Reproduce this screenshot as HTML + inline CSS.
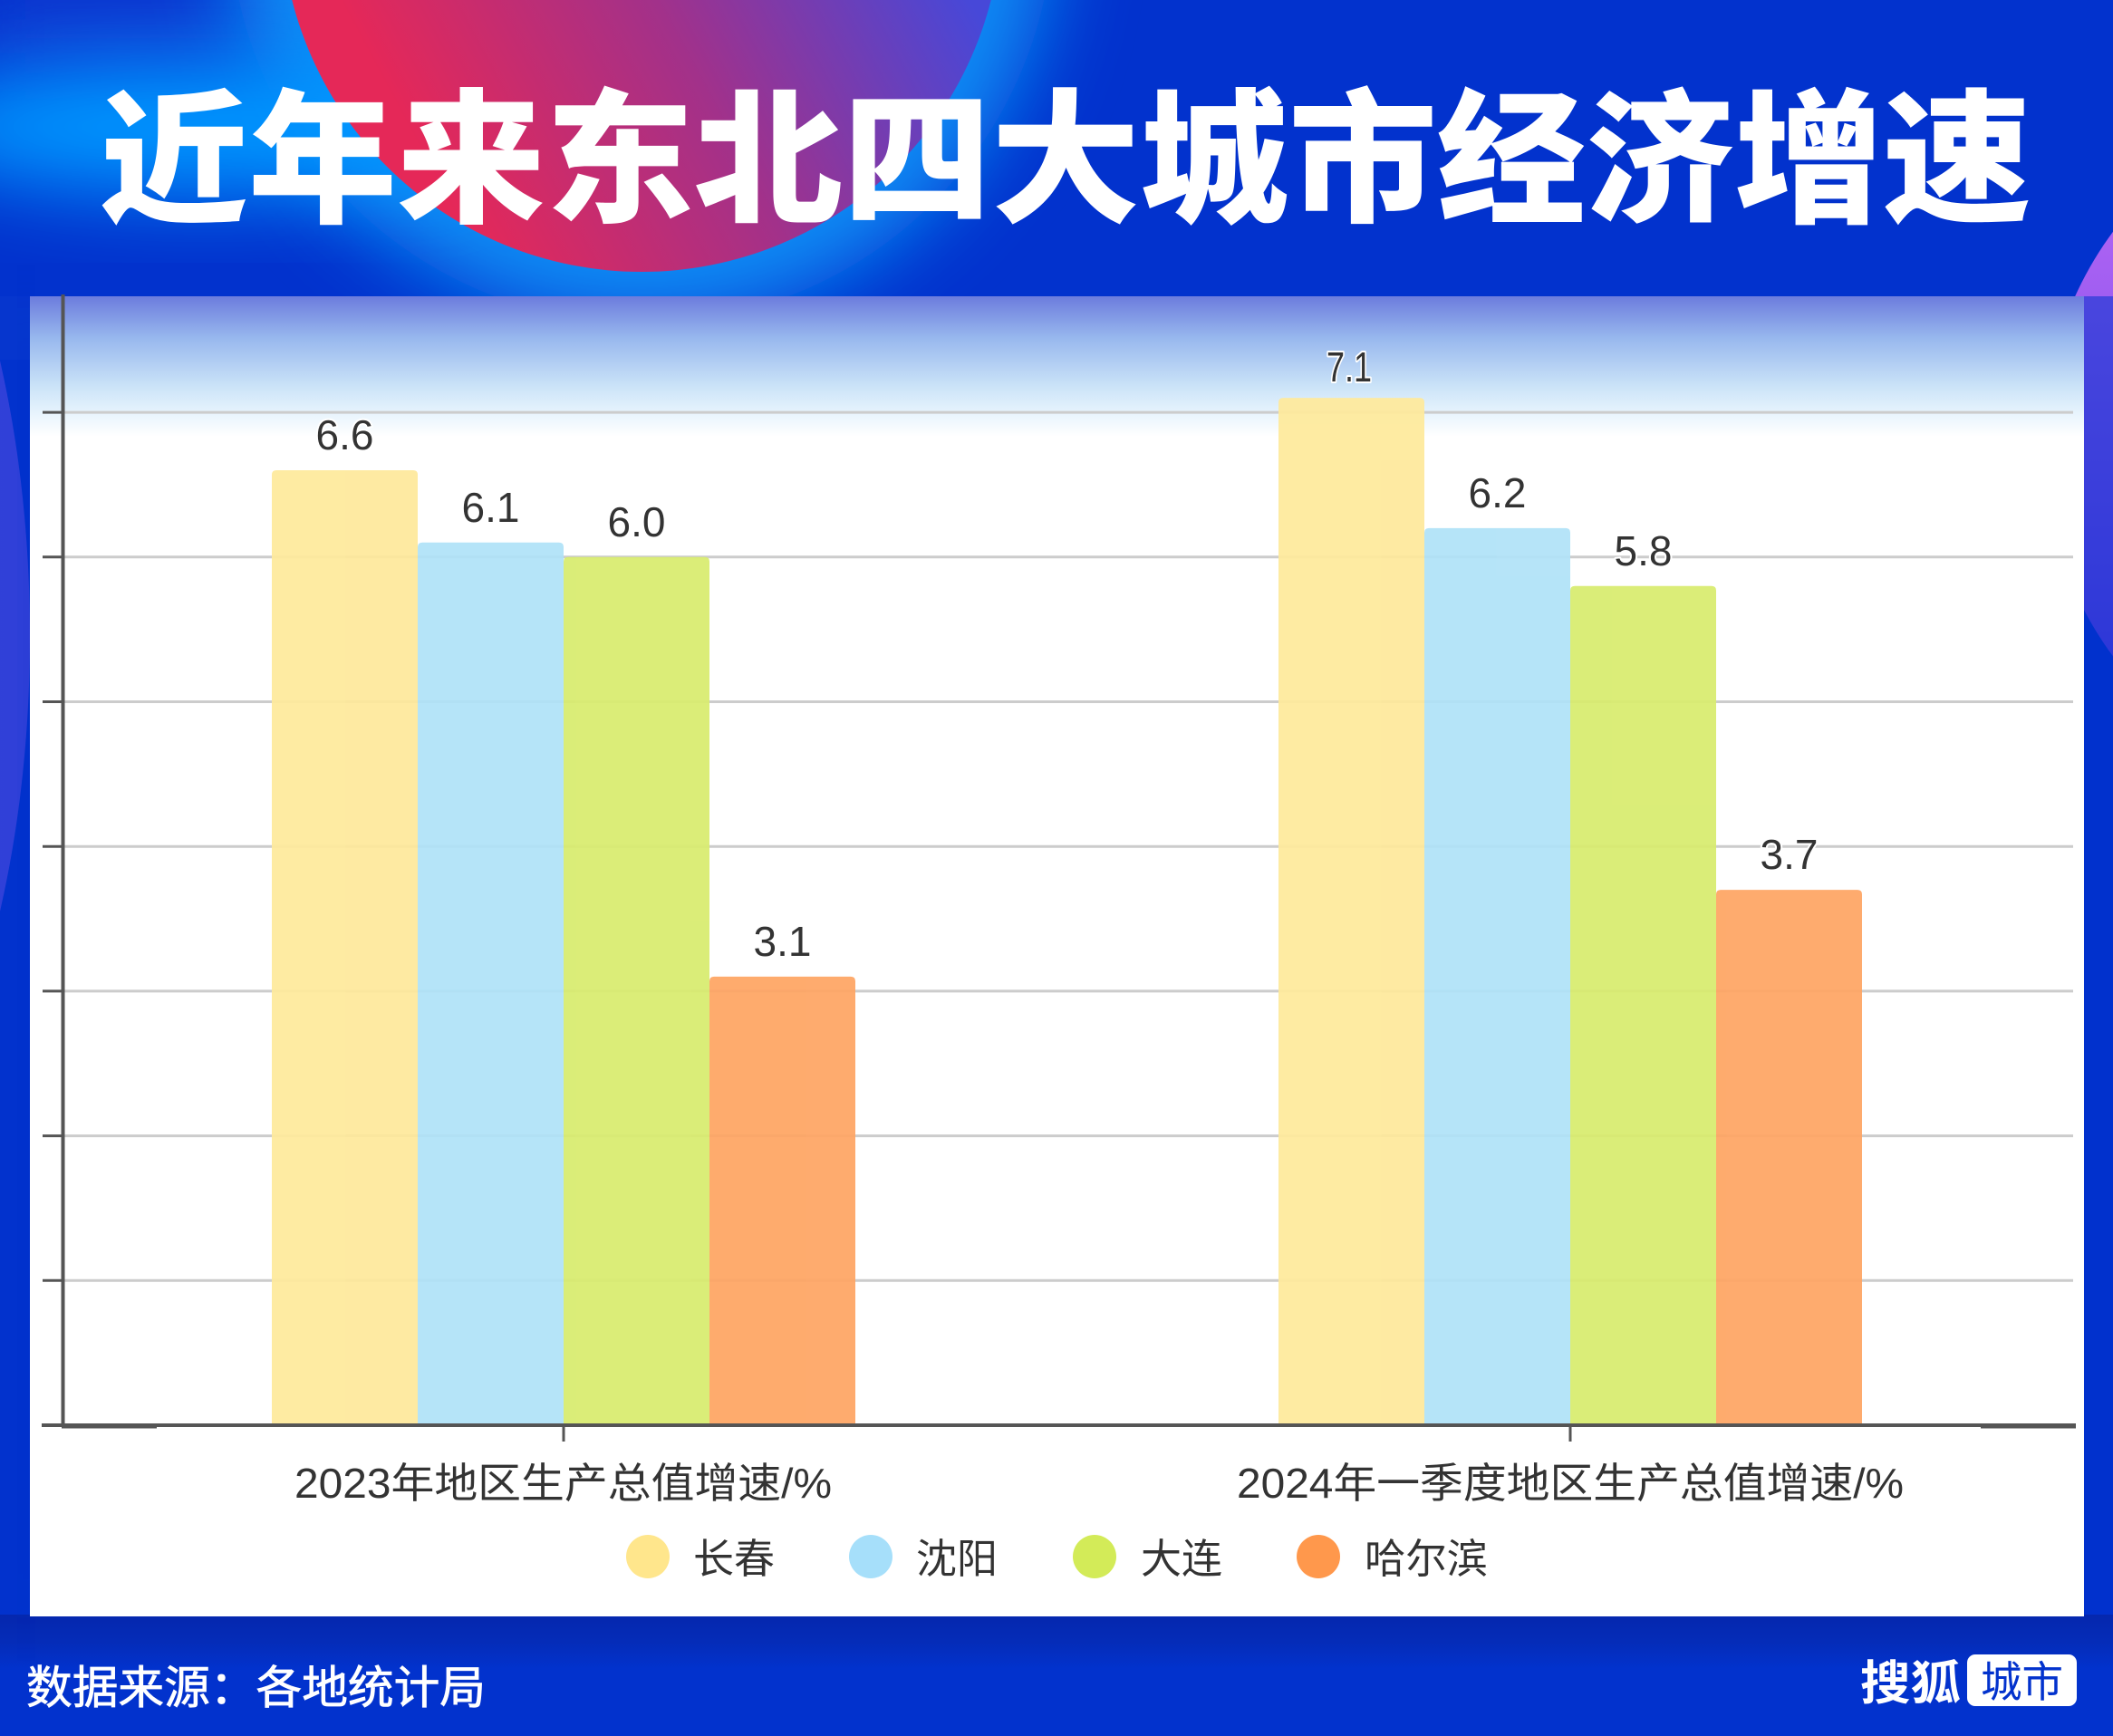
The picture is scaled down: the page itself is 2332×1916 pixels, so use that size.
<!DOCTYPE html>
<html>
<head>
<meta charset="utf-8">
<style>
html,body{margin:0;padding:0;background:#0232cd;}
svg{display:block;}
</style>
</head>
<body>
<svg xmlns="http://www.w3.org/2000/svg" width="2332" height="1916" viewBox="0 0 2332 1916">
<defs>
  <linearGradient id="pink" gradientUnits="userSpaceOnUse" x1="520" y1="270" x2="1060" y2="-20">
    <stop offset="0" stop-color="#e52858"/>
    <stop offset="0.5" stop-color="#a2318a"/>
    <stop offset="1" stop-color="#4748d8"/>
  </linearGradient>
  <linearGradient id="purple" x1="0" y1="0" x2="0" y2="1">
    <stop offset="0" stop-color="#c46af6"/>
    <stop offset="0.35" stop-color="#9a5cf0"/>
    <stop offset="1" stop-color="#4a34de"/>
  </linearGradient>
  <linearGradient id="panelTop" x1="0" y1="0" x2="0" y2="1">
    <stop offset="0" stop-color="#6c7cdd"/>
    <stop offset="0.3" stop-color="#98b8ee"/>
    <stop offset="0.65" stop-color="#cce4f8"/>
    <stop offset="0.85" stop-color="#eaf5fd"/>
    <stop offset="1" stop-color="#ffffff"/>
  </linearGradient>
  <linearGradient id="bottomShadow" x1="0" y1="0" x2="0" y2="1">
    <stop offset="0" stop-color="#0527ae"/>
    <stop offset="0.5" stop-color="#052cb8"/>
    <stop offset="1" stop-color="#0232cd"/>
  </linearGradient>
  <linearGradient id="leftBlob" x1="0" y1="0" x2="1" y2="0">
    <stop offset="0" stop-color="#3a4ce2"/>
    <stop offset="1" stop-color="#3040d8"/>
  </linearGradient>
  <filter id="blur50" x="-50%" y="-50%" width="200%" height="200%">
    <feGaussianBlur stdDeviation="45"/>
  </filter>
  <filter id="blur30" x="-50%" y="-50%" width="200%" height="200%">
    <feGaussianBlur stdDeviation="30"/>
  </filter>
</defs>

<!-- background -->
<rect x="0" y="0" width="2332" height="1916" fill="#0232cd"/>
<rect x="0" y="0" width="400" height="80" fill="#1a3ed4" opacity="0.6" filter="url(#blur30)"/>

<!-- cyan glows -->
<circle cx="708" cy="-98" r="455" fill="#0a8cf5" filter="url(#blur50)"/>
<ellipse cx="230" cy="140" rx="330" ry="75" fill="#0096ff" filter="url(#blur50)"/>

<!-- pink circle -->
<circle cx="708" cy="-98" r="398" fill="url(#pink)"/>

<!-- right purple circle -->
<circle cx="2650" cy="490" r="395" fill="url(#purple)"/>

<!-- right strip overlay -->
<rect x="2299" y="327" width="33" height="1460" fill="#0232cd" opacity="0.55"/>

<!-- left blob -->
<ellipse cx="-300" cy="702" rx="333" ry="700" fill="url(#leftBlob)"/>
<rect x="0" y="327" width="33" height="70" fill="#0a3ad0" opacity="0.5"/>

<!-- bottom shadow -->
<rect x="0" y="1782" width="2332" height="60" fill="url(#bottomShadow)"/>
<rect x="24" y="340" width="10" height="1445" fill="#0528c0" opacity="0.5" filter="url(#blur30)"/>

<!-- panel -->
<rect x="33" y="327" width="2267" height="1457" fill="#ffffff"/>
<rect x="33" y="327" width="2267" height="155" fill="url(#panelTop)"/>

<!-- gridlines -->
<g stroke="#cccccc" stroke-width="3">
  <line x1="70" y1="455.1" x2="2288" y2="455.1"/>
  <line x1="70" y1="614.8" x2="2288" y2="614.8"/>
  <line x1="70" y1="774.5" x2="2288" y2="774.5"/>
  <line x1="70" y1="934.2" x2="2288" y2="934.2"/>
  <line x1="70" y1="1093.9" x2="2288" y2="1093.9"/>
  <line x1="70" y1="1253.6" x2="2288" y2="1253.6"/>
  <line x1="70" y1="1413.3" x2="2288" y2="1413.3"/>
</g>
<!-- y ticks -->
<g stroke="#555555" stroke-width="3">
  <line x1="47" y1="455.1" x2="70" y2="455.1"/>
  <line x1="47" y1="614.8" x2="70" y2="614.8"/>
  <line x1="47" y1="774.5" x2="70" y2="774.5"/>
  <line x1="47" y1="934.2" x2="70" y2="934.2"/>
  <line x1="47" y1="1093.9" x2="70" y2="1093.9"/>
  <line x1="47" y1="1253.6" x2="70" y2="1253.6"/>
  <line x1="47" y1="1413.3" x2="70" y2="1413.3"/>
</g>

<!-- bars -->
<g opacity="0.93">
  <path d="M300,1573 V524 Q300,519 305,519 H456 Q461,519 461,524 V1573 Z" fill="#fee99b"/>
  <path d="M461,1573 V603.8 Q461,598.8 466,598.8 H617 Q622,598.8 622,603.8 V1573 Z" fill="#b0e2f8"/>
  <path d="M622,1573 V619.8 Q622,614.8 627,614.8 H778 Q783,614.8 783,619.8 V1573 Z" fill="#d8ec6e"/>
  <path d="M783,1573 V1082.9 Q783,1077.9 788,1077.9 H939 Q944,1077.9 944,1082.9 V1573 Z" fill="#fea563"/>

  <path d="M1411,1573 V444.1 Q1411,439.1 1416,439.1 H1567 Q1572,439.1 1572,444.1 V1573 Z" fill="#fee99b"/>
  <path d="M1572,1573 V587.9 Q1572,582.9 1577,582.9 H1728 Q1733,582.9 1733,587.9 V1573 Z" fill="#b0e2f8"/>
  <path d="M1733,1573 V651.7 Q1733,646.7 1738,646.7 H1889 Q1894,646.7 1894,651.7 V1573 Z" fill="#d8ec6e"/>
  <path d="M1894,1573 V987.1 Q1894,982.1 1899,982.1 H2050 Q2055,982.1 2055,987.1 V1573 Z" fill="#fea563"/>
</g>

<!-- axes -->
<line x1="69.5" y1="325" x2="69.5" y2="1575" stroke="#555555" stroke-width="4"/>
<line x1="46" y1="1573" x2="2291" y2="1573" stroke="#555555" stroke-width="4"/>
<line x1="68" y1="1575.5" x2="173" y2="1575.5" stroke="#555555" stroke-width="2"/>
<line x1="2186" y1="1575.5" x2="2291" y2="1575.5" stroke="#555555" stroke-width="2"/>
<line x1="622" y1="1573" x2="622" y2="1591" stroke="#555555" stroke-width="3"/>
<line x1="1733" y1="1573" x2="1733" y2="1591" stroke="#555555" stroke-width="3"/>

<!-- value labels -->
<g font-family="'Liberation Sans','Noto Sans CJK SC',sans-serif" font-size="46" fill="#333333" text-anchor="middle" stroke="#ffffff" stroke-width="4" paint-order="stroke" stroke-linejoin="round">
  <text x="380.5" y="496">6.6</text>
  <text x="541.5" y="576">6.1</text>
  <text x="702.5" y="592">6.0</text>
  <text x="863.5" y="1055">3.1</text>
  <text x="1489" y="421" textLength="50" lengthAdjust="spacingAndGlyphs">7.1</text>
  <text x="1652.5" y="560">6.2</text>
  <text x="1813.5" y="624">5.8</text>
  <text x="1974.5" y="959">3.7</text>
</g>

<!-- category labels -->
<g font-family="'Liberation Sans','Noto Sans CJK SC',sans-serif" font-size="46" fill="#333333">
  <text x="325" y="1653" textLength="593" lengthAdjust="spacingAndGlyphs">2023年地区生产总值增速/%</text>
  <text x="1365" y="1653" textLength="736" lengthAdjust="spacingAndGlyphs">2024年一季度地区生产总值增速/%</text>
</g>

<!-- legend -->
<circle cx="715" cy="1718" r="24" fill="#ffe68c"/>
<circle cx="961" cy="1718" r="24" fill="#a6dffa"/>
<circle cx="1208" cy="1718" r="24" fill="#d3eb58"/>
<circle cx="1455" cy="1718" r="24" fill="#ff984c"/>
<g font-family="'Liberation Sans','Noto Sans CJK SC',sans-serif" font-size="45" fill="#333333">
  <text x="765" y="1736" textLength="90" lengthAdjust="spacingAndGlyphs">长春</text>
  <text x="1011" y="1736" textLength="90" lengthAdjust="spacingAndGlyphs">沈阳</text>
  <text x="1259" y="1736" textLength="90" lengthAdjust="spacingAndGlyphs">大连</text>
  <text x="1506" y="1736" textLength="136" lengthAdjust="spacingAndGlyphs">哈尔滨</text>
</g>

<!-- title -->
<text x="110" y="233" font-family="'Liberation Sans','Noto Sans CJK SC',sans-serif" font-size="160" font-weight="900" fill="#ffffff" textLength="2132" lengthAdjust="spacingAndGlyphs">近年来东北四大城市经济增速</text>

<!-- source -->
<text x="29" y="1880" font-family="'Liberation Sans','Noto Sans CJK SC',sans-serif" font-size="50" fill="#ffffff" stroke="#ffffff" stroke-width="0.8" textLength="507" lengthAdjust="spacingAndGlyphs">数据来源：各地统计局</text>

<!-- logo -->
<text x="2053" y="1876" font-family="'Liberation Sans','Noto Sans CJK SC',sans-serif" font-size="52" font-weight="bold" fill="#ffffff" textLength="111" lengthAdjust="spacingAndGlyphs">搜狐</text>
<rect x="2171" y="1826" width="121" height="57" rx="9" ry="9" fill="#ffffff"/>
<text x="2186" y="1873" font-family="'Liberation Sans','Noto Sans CJK SC',sans-serif" font-size="47" fill="#0232cd" textLength="91" lengthAdjust="spacingAndGlyphs">城市</text>
</svg>
</body>
</html>
